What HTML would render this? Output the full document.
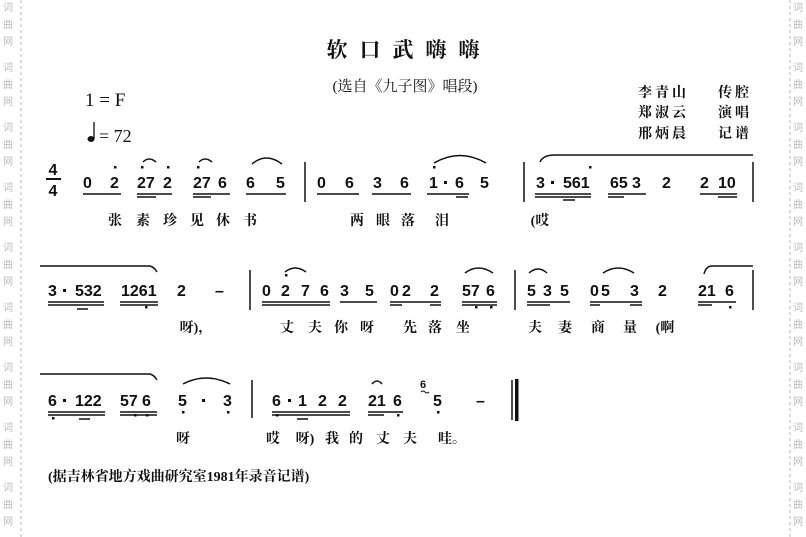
<!DOCTYPE html>
<html><head><meta charset="utf-8"><style>
html,body{margin:0;padding:0;background:#fff;}
svg{display:block;}
.n{font-family:"Liberation Sans",sans-serif;font-weight:bold;font-size:16px;fill:#111;}
.c{font-family:"Liberation Serif","Noto Serif CJK SC",serif;font-weight:bold;font-size:14px;fill:#111;}
.w{font-family:"Noto Sans CJK SC",sans-serif;font-size:10px;fill:#bbb;}
</style></head><body>
<svg width="806" height="537" xmlns="http://www.w3.org/2000/svg">
<g stroke="#bbb" stroke-dasharray="3,3" stroke-width="1"><line x1="21" y1="0" x2="21" y2="537"/><line x1="790" y1="0" x2="790" y2="537"/></g>
<g class="w" text-anchor="middle">
<text x="8" y="11">词</text><text x="8" y="28">曲</text><text x="8" y="45">网</text>
<text x="8" y="71">词</text><text x="8" y="88">曲</text><text x="8" y="105">网</text>
<text x="8" y="131">词</text><text x="8" y="148">曲</text><text x="8" y="165">网</text>
<text x="8" y="191">词</text><text x="8" y="208">曲</text><text x="8" y="225">网</text>
<text x="8" y="251">词</text><text x="8" y="268">曲</text><text x="8" y="285">网</text>
<text x="8" y="311">词</text><text x="8" y="328">曲</text><text x="8" y="345">网</text>
<text x="8" y="371">词</text><text x="8" y="388">曲</text><text x="8" y="405">网</text>
<text x="8" y="431">词</text><text x="8" y="448">曲</text><text x="8" y="465">网</text>
<text x="8" y="491">词</text><text x="8" y="508">曲</text><text x="8" y="525">网</text>
<text x="798" y="11">词</text><text x="798" y="28">曲</text><text x="798" y="45">网</text>
<text x="798" y="71">词</text><text x="798" y="88">曲</text><text x="798" y="105">网</text>
<text x="798" y="131">词</text><text x="798" y="148">曲</text><text x="798" y="165">网</text>
<text x="798" y="191">词</text><text x="798" y="208">曲</text><text x="798" y="225">网</text>
<text x="798" y="251">词</text><text x="798" y="268">曲</text><text x="798" y="285">网</text>
<text x="798" y="311">词</text><text x="798" y="328">曲</text><text x="798" y="345">网</text>
<text x="798" y="371">词</text><text x="798" y="388">曲</text><text x="798" y="405">网</text>
<text x="798" y="431">词</text><text x="798" y="448">曲</text><text x="798" y="465">网</text>
<text x="798" y="491">词</text><text x="798" y="508">曲</text><text x="798" y="525">网</text>
</g>

<!-- header -->
<text x="409" y="57" text-anchor="middle" class="c" style="font-size:21px" letter-spacing="12">软口武嗨嗨</text>
<text x="405" y="91" text-anchor="middle" class="c" style="font-weight:normal;font-size:15px">(选自《九子图》唱段)</text>
<text x="85" y="106" style="font-family:'Liberation Serif',serif;font-size:19px;fill:#111">1 = F</text>
<ellipse cx="91" cy="139" rx="3.5" ry="3" fill="#111"/><line x1="94" y1="139" x2="94" y2="122" stroke="#111" stroke-width="1.3"/>
<text x="99" y="142" style="font-family:'Liberation Serif',serif;font-size:18px;fill:#111">= 72</text>
<g class="c" style="font-size:14px" letter-spacing="3">
<text x="638" y="97">李青山</text><text x="718" y="97">传腔</text>
<text x="638" y="117">郑淑云</text><text x="718" y="117">演唱</text>
<text x="638" y="138">邢炳晨</text><text x="718" y="138">记谱</text></g>

<!-- time signature -->
<g class="n" text-anchor="middle"><text x="53" y="175">4</text><text x="53" y="196">4</text></g>
<line x1="46" y1="179" x2="61" y2="179" stroke="#111" stroke-width="2"/>

<g class="n">
<!-- row1 -->
<text x="83" y="188">0</text><text x="110" y="188">2</text>
<text x="137" y="188">27</text><text x="163" y="188">2</text>
<text x="193" y="188">27</text><text x="218" y="188">6</text>
<text x="246" y="188">6</text><text x="276" y="188">5</text>
<text x="317" y="188">0</text><text x="345" y="188">6</text><text x="373" y="188">3</text><text x="400" y="188">6</text>
<text x="429" y="188">1</text><text x="455" y="188">6</text><text x="480" y="188">5</text>
<text x="536" y="188">3</text><text x="563" y="188">561</text>
<text x="610" y="188">65</text><text x="632" y="188">3</text><text x="662" y="188">2</text>
<text x="700" y="188">2</text><text x="718" y="188">10</text>
<!-- row2 -->
<text x="48" y="296">3</text><text x="75" y="296">532</text>
<text x="121" y="296">1261</text><text x="177" y="296">2</text><text x="215" y="296">–</text>
<text x="262" y="296">0</text><text x="281" y="296">2</text><text x="301" y="296">7</text><text x="320" y="296">6</text>
<text x="340" y="296">3</text><text x="365" y="296">5</text>
<text x="390" y="296">0</text><text x="402" y="296">2</text><text x="430" y="296">2</text>
<text x="462" y="296">57</text><text x="486" y="296">6</text>
<text x="527" y="296">5</text><text x="543" y="296">3</text><text x="560" y="296">5</text>
<text x="590" y="296">0</text><text x="601" y="296">5</text><text x="630" y="296">3</text>
<text x="658" y="296">2</text><text x="698" y="296">21</text><text x="725" y="296">6</text>
<!-- row3 -->
<text x="48" y="406">6</text><text x="75" y="406">122</text>
<text x="120" y="406">57</text><text x="142" y="406">6</text>
<text x="178" y="406">5</text><text x="223" y="406">3</text>
<text x="272" y="406">6</text><text x="298" y="406">1</text><text x="318" y="406">2</text><text x="338" y="406">2</text>
<text x="368" y="406">21</text><text x="393" y="406">6</text>
<text x="433" y="406">5</text><text x="476" y="406">–</text>
</g>
<text x="420" y="388" class="n" style="font-size:11px">6</text>
<path d="M421 392 q2 -2 4 0 q2 2 4 0" stroke="#111" fill="none"/>

<g fill="#111">
<rect x="551" y="181" width="3" height="3"/><rect x="444" y="181" width="3" height="3"/>
<rect x="63" y="289" width="3" height="3"/>
<rect x="63" y="399" width="3" height="3"/><rect x="202" y="399" width="3" height="3"/><rect x="288" y="399" width="3" height="3"/>
<rect x="114" y="166" width="2.5" height="2.5"/><rect x="141" y="166" width="2.5" height="2.5"/><rect x="167" y="166" width="2.5" height="2.5"/><rect x="197" y="166" width="2.5" height="2.5"/>
<rect x="433" y="166" width="2.5" height="2.5"/><rect x="589" y="166" width="2.5" height="2.5"/>
<rect x="285" y="274" width="2.5" height="2.5"/>
<rect x="145" y="306" width="2.5" height="2.5"/><rect x="475" y="306" width="2.5" height="2.5"/><rect x="490" y="306" width="2.5" height="2.5"/><rect x="729" y="306" width="2.5" height="2.5"/>
<rect x="52" y="417" width="2.5" height="2.5"/><rect x="134" y="414" width="2.5" height="2.5"/><rect x="146" y="414" width="2.5" height="2.5"/><rect x="182" y="411" width="2.5" height="2.5"/><rect x="227" y="411" width="2.5" height="2.5"/>
<rect x="276" y="414" width="2.5" height="2.5"/><rect x="397" y="414" width="2.5" height="2.5"/><rect x="437" y="411" width="2.5" height="2.5"/>
</g>

<g stroke="#111" stroke-width="1.5" fill="none">
<path d="M83 194H121 M137 194H172 M137 197H156 M193 194H230 M193 197H211 M246 194H286 M317 194H359 M372 194H411 M427 194H469 M456 197H468"/>
<path d="M535 194H591 M535 197H591 M563 200H575 M608 194H646 M608 197H624 M700 194H737 M718 197H737"/>
<path d="M48 302H104 M48 305H104 M77 309H88 M120 302H158 M120 305H158 M262 302H330 M262 305H330 M340 302H377 M390 302H441 M390 305H402 M430 305H441 M462 302H497 M462 305H497 M527 302H570 M527 305H550 M590 302H642 M590 305H600 M630 305H642 M698 302H736 M698 305H712"/>
<path d="M48 412H105 M48 415H105 M79 419H90 M120 412H157 M120 415H157 M272 412H350 M272 415H350 M297 419H308 M368 412H403 M368 415H384"/>
<path d="M305 162V202 M524 162V202 M753 162V202 M250 270V310 M515 270V310 M753 270V310 M252 380V418 M512 380V420"/>
<path d="M143 162Q149 156 156 162 M199 162Q205 156 212 162 M252 164Q266 152 282 164 M434 163Q460 148 486 163 M540 162Q543 155 555 155H753"/>
<path d="M40 266H150Q154 267 157 272 M285 272Q295 264 306 272 M465 273Q478 263 493 273 M529 273Q538 265 547 273 M603 273Q618 263 634 273 M704 274Q706 266 712 266H753"/>
<path d="M40 374H150Q154 375 157 380 M183 384Q206 372 230 384 M372 384Q377 378 382 384"/>
</g>
<rect x="515" y="379" width="3.5" height="42" fill="#111"/>

<g class="c" text-anchor="middle">
<text x="115" y="225">张</text><text x="143" y="225">素</text><text x="170" y="225">珍</text><text x="197" y="225">见</text><text x="223" y="225">休</text><text x="250" y="225">书</text>
<text x="357" y="225">两</text><text x="383" y="225">眼</text><text x="408" y="225">落</text><text x="442" y="225">泪</text><text x="540" y="225">(哎</text>
<text x="196" y="332">呀)，</text>
<text x="287" y="332">丈</text><text x="315" y="332">夫</text><text x="341" y="332">你</text><text x="367" y="332">呀</text><text x="410" y="332">先</text><text x="435" y="332">落</text><text x="463" y="332">坐</text>
<text x="535" y="332">夫</text><text x="565" y="332">妻</text><text x="598" y="332">商</text><text x="630" y="332">量</text><text x="665" y="332">(啊</text>
<text x="183" y="443">呀</text>
<text x="273" y="443">哎</text><text x="305" y="443">呀)</text><text x="332" y="443">我</text><text x="356" y="443">的</text><text x="383" y="443">丈</text><text x="410" y="443">夫</text><text x="452" y="443">哇。</text>
</g>
<text x="48" y="481" class="c" style="font-size:14px">(据吉林省地方戏曲研究室1981年录音记谱)</text>
</svg>
</body></html>
